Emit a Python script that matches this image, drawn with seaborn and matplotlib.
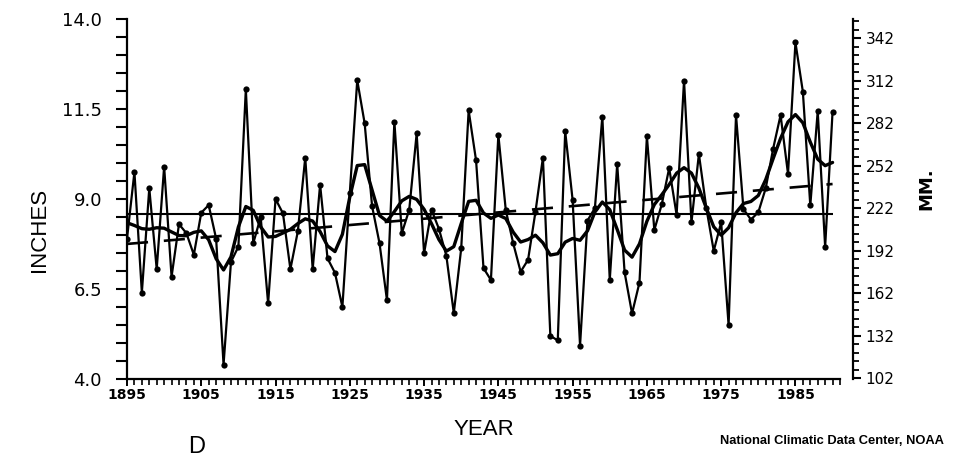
import numpy as np
import pandas as pd
import matplotlib
matplotlib.use("Agg")
import matplotlib.pyplot as plt
import seaborn as sns
from matplotlib.ticker import MultipleLocator, FixedLocator

# ---- data ----
years = list(range(1895, 1991))
precip_in = [
    7.90, 9.75, 6.40, 9.30, 7.05, 9.90, 6.84, 8.30, 8.05, 7.45,   # 1895-1904
    8.62, 8.83, 7.90, 4.40, 7.25, 7.68, 12.05, 7.77, 8.50, 6.10,  # 1905-1914
    9.00, 8.60, 7.05, 8.10, 10.15, 7.05, 9.40, 7.35, 6.95, 6.00,  # 1915-1924
    9.17, 12.30, 11.10, 8.80, 7.77, 6.19, 11.15, 8.05, 8.70, 10.82,  # 1925-1934
    7.49, 8.70, 8.17, 7.42, 5.83, 7.63, 11.46, 10.07, 7.08, 6.75,  # 1935-1944
    10.78, 8.69, 7.77, 6.98, 7.31, 8.65, 10.15, 5.20, 5.07, 10.88,  # 1945-1954
    8.97, 4.93, 8.40, 8.75, 11.29, 6.75, 9.97, 6.96, 5.82, 6.68,  # 1955-1964
    10.74, 8.14, 8.85, 9.86, 8.56, 12.29, 8.35, 10.25, 8.75, 7.56,  # 1965-1974
    8.35, 5.50, 11.33, 8.72, 8.43, 8.63, 9.30, 10.40, 11.33, 9.70,  # 1975-1984
    13.35, 11.98, 8.82, 11.44, 7.67, 11.43,                        # 1985-1990
]
x_tick_years = [1895, 1905, 1915, 1925, 1935, 1945, 1955, 1965, 1975, 1985]
y_ticks_in = [4.0, 6.5, 9.0, 11.5, 14.0]
mm_ticks = [102, 132, 162, 192, 222, 252, 282, 312, 342]
binomial_weights = [1, 8, 28, 56, 70, 56, 28, 8, 1]   # 9-point binomial filter
MM_PER_INCH = 25.4

df = pd.DataFrame({"year": years, "inches": precip_in})
vals = np.asarray(precip_in, float)
w = np.asarray(binomial_weights, float)
half = len(w) // 2
smooth = []
for i in range(len(vals)):
    lo, hi = max(0, i - half), min(len(vals), i + half + 1)
    ww = w[lo - i + half: hi - i + half]
    smooth.append(np.sum(ww * vals[lo:hi]) / ww.sum())
df["smooth"] = smooth

sns.set_theme(style="ticks")
plt.rcParams["font.family"] = ["DejaVu Sans"]
plt.rcParams["axes.linewidth"] = 1.6
for k in ["text.color", "axes.labelcolor", "xtick.color", "ytick.color", "axes.edgecolor"]:
    plt.rcParams[k] = "black"

W, H = 959, 459
fig = plt.figure(figsize=(W / 100, H / 100), dpi=100)
fig.patch.set_facecolor("white")
ax = fig.add_axes([127 / W, 80 / H, 713 / W, 360 / H])
ax.set_facecolor("white")

sns.lineplot(data=df, x="year", y="inches", ax=ax, color="black", lw=1.6,
             marker="o", markersize=4.5, markeredgewidth=0, zorder=3)
sns.lineplot(data=df, x="year", y="smooth", ax=ax, color="black", lw=2.4, zorder=4)
sns.regplot(data=df, x="year", y="inches", ax=ax, scatter=False, ci=None,
            color="black", line_kws=dict(lw=1.9, ls=(0, (8, 6))))
ax.hlines(df["inches"].mean(), years[0], years[-1], color="black", lw=1.5, zorder=2)

ax.set_xlim(1895, 1991)
ax.set_ylim(4, 14)
ax.set_xticks(x_tick_years)
ax.set_xticklabels([str(y) for y in x_tick_years], fontsize=10, fontweight="bold")
ax.xaxis.set_minor_locator(MultipleLocator(1))
ax.set_yticks(y_ticks_in)
ax.set_yticklabels([f"{v:.1f}" for v in y_ticks_in], fontsize=13)
ax.yaxis.set_minor_locator(MultipleLocator(0.5))
ax.tick_params(axis="x", which="major", length=5, width=1.4, pad=1.5, direction="out")
ax.tick_params(axis="x", which="minor", length=4, width=1.2, direction="out")
ax.tick_params(axis="y", which="both", length=8, width=1.5, pad=10, direction="out")
for s in ["top", "right"]:
    ax.spines[s].set_visible(False)

ax.set_xlabel("YEAR", fontsize=16, family="Liberation Sans")
ax.xaxis.set_label_coords(0.5, -0.112)
ax.set_ylabel("INCHES", fontsize=16, family="Liberation Sans")
ax.yaxis.set_label_coords(-0.108, 0.415)

ax2 = ax.twinx()
ax2.set_ylim(4 * MM_PER_INCH, 14 * MM_PER_INCH)
ax2.set_yticks(mm_ticks)
ax2.set_yticklabels([str(m) for m in mm_ticks], fontsize=11, fontweight="bold")
ax2.yaxis.set_minor_locator(FixedLocator(list(range(mm_ticks[0], 356, 6))))
ax2.tick_params(axis="y", which="major", length=6, width=1.5, pad=3)
ax2.tick_params(axis="y", which="minor", length=4, width=1.3)
for s in ["top", "left", "bottom"]:
    ax2.spines[s].set_visible(False)
ax2.spines["right"].set_position(("outward", 9.4))
ax2.set_ylabel("MM.", fontsize=13, fontweight="bold", rotation=90)
ax2.yaxis.set_label_coords(1.109, 0.528)
ax2.grid(False)
ax.grid(False)

fig.text(944 / W, (H - 441) / H, "National Climatic Data Center, NOAA",
         ha="right", va="center", fontsize=9.3, fontweight="bold", family="Liberation Sans")
fig.text(188 / W, (H - 436) / H, "D", ha="left", va="top", fontsize=17,
         fontweight="light", family="Liberation Sans")

fig.savefig("out.png", dpi=100, facecolor="white")
